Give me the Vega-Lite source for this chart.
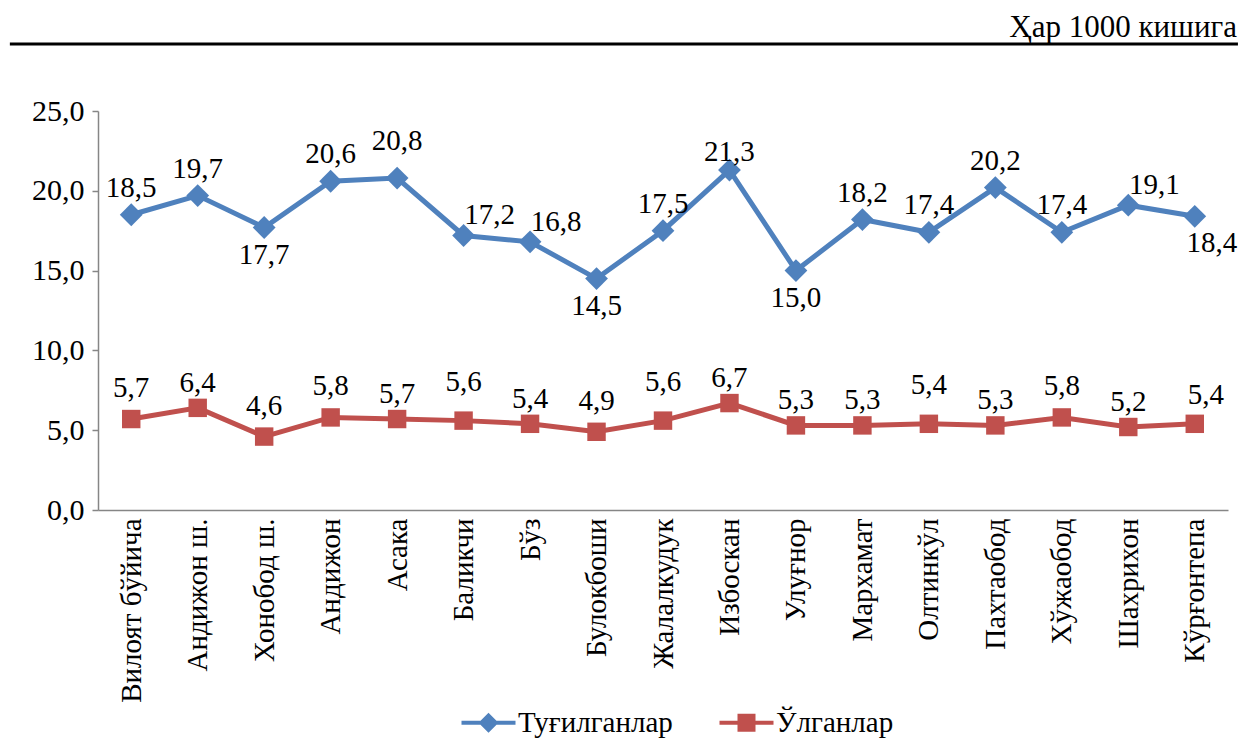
{
  "$schema": "https://vega.github.io/schema/vega-lite/v6.json",
  "width": 1130,
  "height": 399,
  "autosize": {"type": "none"},
  "padding": {"left": 98, "top": 111, "right": 13, "bottom": 230},
  "background": "white",
  "config": {
    "locale": {"number": {"decimal": ",", "thousands": " ", "grouping": [3], "currency": ["", ""]}},
    "font": "Liberation Serif",
    "view": {"stroke": null}
  },
  "title": {
    "text": "Ҳар 1000 кишига",
    "anchor": "end",
    "frame": "group",
    "font": "Liberation Serif",
    "fontSize": 31,
    "fontWeight": "normal",
    "color": "black",
    "baseline": "alphabetic",
    "offset": -26,
    "dx": 9
  },
  "data": {
    "values": [
      {"region": "Вилоят бўйича", "series": "Туғилганлар", "value": 18.5},
      {"region": "Андижон ш.", "series": "Туғилганлар", "value": 19.7},
      {"region": "Хонобод ш.", "series": "Туғилганлар", "value": 17.7},
      {"region": "Андижон", "series": "Туғилганлар", "value": 20.6},
      {"region": "Асака", "series": "Туғилганлар", "value": 20.8},
      {"region": "Баликчи", "series": "Туғилганлар", "value": 17.2},
      {"region": "Бўз", "series": "Туғилганлар", "value": 16.8},
      {"region": "Булокбоши", "series": "Туғилганлар", "value": 14.5},
      {"region": "Жалалкудук", "series": "Туғилганлар", "value": 17.5},
      {"region": "Избоскан", "series": "Туғилганлар", "value": 21.3},
      {"region": "Улуғнор", "series": "Туғилганлар", "value": 15.0},
      {"region": "Мархамат", "series": "Туғилганлар", "value": 18.2},
      {"region": "Олтинкўл", "series": "Туғилганлар", "value": 17.4},
      {"region": "Пахтаобод", "series": "Туғилганлар", "value": 20.2},
      {"region": "Хўжаобод", "series": "Туғилганлар", "value": 17.4},
      {"region": "Шахрихон", "series": "Туғилганлар", "value": 19.1},
      {"region": "Кўрғонтепа", "series": "Туғилганлар", "value": 18.4},
      {"region": "Вилоят бўйича", "series": "Ўлганлар", "value": 5.7},
      {"region": "Андижон ш.", "series": "Ўлганлар", "value": 6.4},
      {"region": "Хонобод ш.", "series": "Ўлганлар", "value": 4.6},
      {"region": "Андижон", "series": "Ўлганлар", "value": 5.8},
      {"region": "Асака", "series": "Ўлганлар", "value": 5.7},
      {"region": "Баликчи", "series": "Ўлганлар", "value": 5.6},
      {"region": "Бўз", "series": "Ўлганлар", "value": 5.4},
      {"region": "Булокбоши", "series": "Ўлганлар", "value": 4.9},
      {"region": "Жалалкудук", "series": "Ўлганлар", "value": 5.6},
      {"region": "Избоскан", "series": "Ўлганлар", "value": 6.7},
      {"region": "Улуғнор", "series": "Ўлганлар", "value": 5.3},
      {"region": "Мархамат", "series": "Ўлганлар", "value": 5.3},
      {"region": "Олтинкўл", "series": "Ўлганлар", "value": 5.4},
      {"region": "Пахтаобод", "series": "Ўлганлар", "value": 5.3},
      {"region": "Хўжаобод", "series": "Ўлганлар", "value": 5.8},
      {"region": "Шахрихон", "series": "Ўлганлар", "value": 5.2},
      {"region": "Кўрғонтепа", "series": "Ўлганлар", "value": 5.4}
    ]
  },
  "resolve": {"scale": {"x": "independent"}},
  "layer": [
    {
      "data": {"values": [{"k": 1}]},
      "mark": {"type": "rule", "color": "black", "strokeWidth": 3},
      "encoding": {
        "y": {"datum": 29.2, "type": "quantitative", "scale": {"domain": [0, 25], "nice": false}},
        "x": {"datum": -0.078, "type": "quantitative", "scale": {"domain": [0, 1], "nice": false}, "axis": null},
        "x2": {"datum": 1.0088}
      }
    },
    {
      "layer": [
        {
          "mark": {"type": "line", "strokeWidth": 5},
          "encoding": {
            "x": {"field": "region", "type": "nominal", "sort": null,
              "axis": {"title": null, "labelAngle": 270, "labelFontSize": 29, "labelColor": "black", "labelFont": "Liberation Serif",
                "ticks": false, "labelPadding": 8, "labelLimit": 400, "domainColor": "#868686", "domainWidth": 1.5, "grid": false, "labelAlign": "right", "labelBaseline": "middle"}},
            "y": {"field": "value", "type": "quantitative", "scale": {"domain": [0, 25], "nice": false},
              "axis": {"title": null, "values": [0, 5, 10, 15, 20, 25], "format": ".1f", "labelFontSize": 30, "labelColor": "black", "labelFont": "Liberation Serif",
                "tickSize": 6, "tickColor": "#868686", "tickWidth": 1.5, "domainColor": "#868686", "domainWidth": 1.5, "gridColor": "#868686", "gridWidth": 1.5, "labelPadding": 8}},
            "color": {"field": "series", "type": "nominal",
              "scale": {"domain": ["Туғилганлар", "Ўлганлар"], "range": ["#4F81BD", "#C0504D"]},
              "legend": {"title": null, "orient": "none", "direction": "horizontal", "legendX": 376, "legendY": 597,
                "labelFontSize": 29, "labelFont": "Liberation Serif", "labelColor": "black", "labelLimit": 400, "symbolSize": 400, "labelOffset": 15, "columnPadding": 46,
                "symbolType": "M-2.7,-0.2H2.7V0.2H-2.7Z M0,-1L1,0L0,1L-1,0Z",
                "encode": {"symbols": {"update": {
                  "shape": {"signal": "datum.value === 'Туғилганлар' ? 'M-2.7,-0.2H2.7V0.2H-2.7Z M0,-1L1,0L0,1L-1,0Z' : 'M-2.7,-0.2H2.7V0.2H-2.7Z M-0.9,-0.9H0.9V0.9H-0.9Z'"},
                  "fill": {"signal": "datum.value === 'Туғилганлар' ? '#4F81BD' : '#C0504D'"},
                  "stroke": {"value": "transparent"},
                  "strokeWidth": {"value": 0},
                  "opacity": {"value": 1}
                }}}}}
          }
        },
        {
          "transform": [{"filter": {"field": "series", "equal": "Туғилганлар"}}],
          "mark": {"type": "point", "filled": true, "opacity": 1, "shape": "diamond", "size": 520},
          "encoding": {
            "x": {"field": "region", "type": "nominal", "sort": null},
            "y": {"field": "value", "type": "quantitative"},
            "color": {"field": "series", "type": "nominal"}
          }
        },
        {
          "transform": [{"filter": {"field": "series", "equal": "Ўлганлар"}}],
          "mark": {"type": "point", "filled": true, "opacity": 1, "shape": "square", "size": 340},
          "encoding": {
            "x": {"field": "region", "type": "nominal", "sort": null},
            "y": {"field": "value", "type": "quantitative"},
            "color": {"field": "series", "type": "nominal"}
          }
        },
        {
          "transform": [{"filter": {"and": [{"field": "series", "equal": "Туғилганлар"}, {"field": "region", "oneOf": ["Вилоят бўйича", "Андижон ш.", "Андижон", "Жалалкудук", "Мархамат", "Олтинкўл", "Пахтаобод", "Хўжаобод"]}]}}],
          "mark": {"type": "text", "fontSize": 29, "font": "Liberation Serif", "color": "black", "dy": -27},
          "encoding": {"x": {"field": "region", "type": "nominal", "sort": null}, "y": {"field": "value", "type": "quantitative"}, "text": {"field": "value", "type": "quantitative", "format": ".1f"}}
        },
        {
          "transform": [{"filter": {"and": [{"field": "series", "equal": "Туғилганлар"}, {"field": "region", "oneOf": ["Асака"]}]}}],
          "mark": {"type": "text", "fontSize": 29, "font": "Liberation Serif", "color": "black", "dy": -37},
          "encoding": {"x": {"field": "region", "type": "nominal", "sort": null}, "y": {"field": "value", "type": "quantitative"}, "text": {"field": "value", "type": "quantitative", "format": ".1f"}}
        },
        {
          "transform": [{"filter": {"and": [{"field": "series", "equal": "Туғилганлар"}, {"field": "region", "oneOf": ["Избоскан"]}]}}],
          "mark": {"type": "text", "fontSize": 29, "font": "Liberation Serif", "color": "black", "dy": -18},
          "encoding": {"x": {"field": "region", "type": "nominal", "sort": null}, "y": {"field": "value", "type": "quantitative"}, "text": {"field": "value", "type": "quantitative", "format": ".1f"}}
        },
        {
          "transform": [{"filter": {"and": [{"field": "series", "equal": "Туғилганлар"}, {"field": "region", "oneOf": ["Баликчи", "Бўз", "Шахрихон"]}]}}],
          "mark": {"type": "text", "fontSize": 29, "font": "Liberation Serif", "color": "black", "dx": 26, "dy": -20},
          "encoding": {"x": {"field": "region", "type": "nominal", "sort": null}, "y": {"field": "value", "type": "quantitative"}, "text": {"field": "value", "type": "quantitative", "format": ".1f"}}
        },
        {
          "transform": [{"filter": {"and": [{"field": "series", "equal": "Туғилганлар"}, {"field": "region", "oneOf": ["Хонобод ш.", "Булокбоши", "Улуғнор"]}]}}],
          "mark": {"type": "text", "fontSize": 29, "font": "Liberation Serif", "color": "black", "dy": 27},
          "encoding": {"x": {"field": "region", "type": "nominal", "sort": null}, "y": {"field": "value", "type": "quantitative"}, "text": {"field": "value", "type": "quantitative", "format": ".1f"}}
        },
        {
          "transform": [{"filter": {"and": [{"field": "series", "equal": "Туғилганлар"}, {"field": "region", "oneOf": ["Кўрғонтепа"]}]}}],
          "mark": {"type": "text", "fontSize": 29, "font": "Liberation Serif", "color": "black", "dx": 17, "dy": 27},
          "encoding": {"x": {"field": "region", "type": "nominal", "sort": null}, "y": {"field": "value", "type": "quantitative"}, "text": {"field": "value", "type": "quantitative", "format": ".1f"}}
        },
        {
          "transform": [{"filter": {"and": [{"field": "series", "equal": "Ўлганлар"}, {"field": "region", "oneOf": ["Баликчи", "Жалалкудук", "Олтинкўл"]}]}}],
          "mark": {"type": "text", "fontSize": 29, "font": "Liberation Serif", "color": "black", "dy": -39},
          "encoding": {"x": {"field": "region", "type": "nominal", "sort": null}, "y": {"field": "value", "type": "quantitative"}, "text": {"field": "value", "type": "quantitative", "format": ".1f"}}
        },
        {
          "transform": [{"filter": {"and": [{"field": "series", "equal": "Ўлганлар"}, {"field": "region", "oneOf": ["Вилоят бўйича", "Хонобод ш.", "Андижон", "Булокбоши", "Хўжаобод"]}]}}],
          "mark": {"type": "text", "fontSize": 29, "font": "Liberation Serif", "color": "black", "dy": -31},
          "encoding": {"x": {"field": "region", "type": "nominal", "sort": null}, "y": {"field": "value", "type": "quantitative"}, "text": {"field": "value", "type": "quantitative", "format": ".1f"}}
        },
        {
          "transform": [{"filter": {"and": [{"field": "series", "equal": "Ўлганлар"}, {"field": "region", "oneOf": ["Андижон ш.", "Асака", "Бўз", "Избоскан", "Улуғнор", "Мархамат", "Пахтаобод", "Шахрихон"]}]}}],
          "mark": {"type": "text", "fontSize": 29, "font": "Liberation Serif", "color": "black", "dy": -25},
          "encoding": {"x": {"field": "region", "type": "nominal", "sort": null}, "y": {"field": "value", "type": "quantitative"}, "text": {"field": "value", "type": "quantitative", "format": ".1f"}}
        },
        {
          "transform": [{"filter": {"and": [{"field": "series", "equal": "Ўлганлар"}, {"field": "region", "oneOf": ["Кўрғонтепа"]}]}}],
          "mark": {"type": "text", "fontSize": 29, "font": "Liberation Serif", "color": "black", "dx": 11, "dy": -29},
          "encoding": {"x": {"field": "region", "type": "nominal", "sort": null}, "y": {"field": "value", "type": "quantitative"}, "text": {"field": "value", "type": "quantitative", "format": ".1f"}}
        }
      ]
    }
  ]
}
